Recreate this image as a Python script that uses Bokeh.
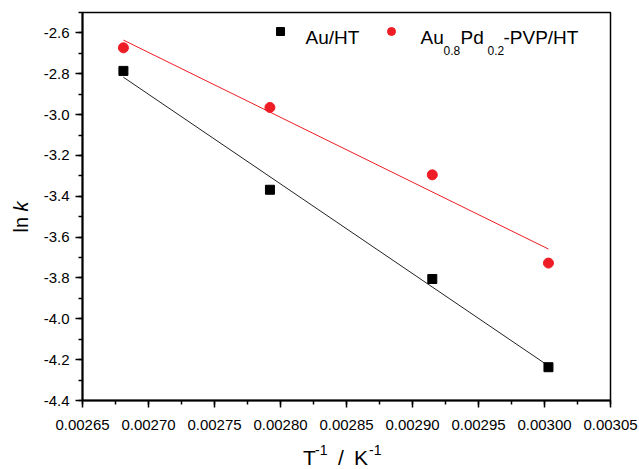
import numpy as np
from bokeh.plotting import figure
from bokeh.models import (Label, Legend, LegendItem, Range1d, SingleIntervalTicker,
                          PrintfTickFormatter, Div)
from bokeh.layouts import row, column
from bokeh.embed import file_html
from bokeh.resources import INLINE

# ---- data ----
inv_T = [0.002681, 0.002792, 0.002915, 0.003003]
ln_k_au = [-2.786, -3.368, -3.805, -4.237]
ln_k_aupd = [-2.673, -2.965, -3.295, -3.727]
series_names = ["Au/HT", "Au0.8Pd0.2-PVP/HT"]

FONT = "Liberation Sans"
RED = "#ee1c24"

W, H = 639, 469
YLAB_W = 40          # width of the y-title strip
XLAB_H = 29          # height of the x-title strip
FW, FH = W - YLAB_W, H - XLAB_H   # figure size
FL, FR, FT, FB = 82 - YLAB_W, 610 - YLAB_W, 12, 400  # frame edges in figure px

p = figure(width=FW, height=FH, output_backend="svg", toolbar_location=None,
           x_range=Range1d(0.00265, 0.00305), y_range=Range1d(-4.4, -2.5),
           min_border_left=FL, min_border_right=FW - FR, min_border_top=FT,
           min_border_bottom=FH - FB)
p.grid.visible = False
p.background_fill_color = "white"
p.border_fill_color = "white"
p.outline_line_color = "black"
p.outline_line_width = 1.5

for ax in (p.xaxis[0], p.yaxis[0]):
    ax.axis_line_width = 2
    ax.axis_line_color = "black"
    ax.major_tick_line_width = 1.5
    ax.minor_tick_line_width = 1.5
    ax.major_tick_in = 0
    ax.minor_tick_in = 0
    ax.major_tick_out = 7
    ax.minor_tick_out = 4
    ax.major_label_text_font = FONT
    ax.major_label_text_font_size = "15px"
    ax.major_label_text_color = "black"
p.xaxis[0].major_label_standoff = 12
p.yaxis[0].major_label_standoff = 6

p.xaxis[0].ticker = SingleIntervalTicker(interval=0.00005, num_minor_ticks=2)
p.xaxis[0].formatter = PrintfTickFormatter(format="%.5f")
p.yaxis[0].ticker = SingleIntervalTicker(interval=0.2, num_minor_ticks=2)
p.yaxis[0].formatter = PrintfTickFormatter(format="%.1f")

# fitted lines (linear regression of the data)
xs = np.array(inv_T)
for ys, col in ((ln_k_au, "#222222"), (ln_k_aupd, RED)):
    m, b = np.polyfit(xs, np.array(ys), 1)
    xl = np.array([xs.min(), xs.max()])
    p.line(xl, m * xl + b, line_color=col, line_width=1)

sq = p.scatter(inv_T, ln_k_au, marker="square", size=9, fill_color="black",
               line_color="black")
ci = p.scatter(inv_T, ln_k_aupd, marker="circle", size=10, fill_color=RED,
               line_color=RED)

# glyph-only legend, texts added as labels (subscripts)
leg = Legend(items=[LegendItem(label=" ", renderers=[sq]),
                    LegendItem(label=" ", renderers=[ci])],
             orientation="horizontal",
             location=(279.5 - YLAB_W - 10 - FL, FB - 40.7),
             padding=0, margin=0, spacing=90, label_standoff=0, label_width=1,
             label_height=20, glyph_width=20, glyph_height=20,
             label_text_font_size="1px", border_line_color=None,
             background_fill_alpha=0)
p.add_layout(leg)


def lab(text, cx, cy, size):
    # cx, cy: page pixel position of the text's start / baseline
    p.add_layout(Label(x=cx - YLAB_W - FL, y=FB - cy, x_units="screen",
                       y_units="screen", text=text, text_font=FONT,
                       text_font_size=f"{size}px", text_color="black",
                       text_baseline="alphabetic", text_align="left"))


lab(series_names[0], 305, 36.5, 19)
lab("Au", 420, 36.5, 19)
lab("0.8", 443, 50, 12)
lab("Pd", 460, 36.5, 19)
lab("0.2", 487, 50, 12)
lab("-PVP/HT", 503, 36.5, 19)

# y title: ln k (italic k)
ylab = Div(width=YLAB_W, height=FH, margin=0, text=(
    f'<div style="position:relative;width:{YLAB_W}px;height:{FH}px;">'
    '<div style="position:absolute;left:21px;top:217px;'
    'transform:translate(-50%,-50%) rotate(-90deg);white-space:nowrap;'
    f"font-family:'{FONT}';font-size:20px;line-height:1;color:black;\">"
    'ln <i>k</i></div></div>'))

# x title: T^-1 / K^-1
def piece(t, left, top, size):
    return (f'<span style="position:absolute;left:{left}px;top:{top}px;'
            f"font-family:'{FONT}';font-size:{size}px;line-height:1;"
            f'white-space:nowrap;color:black;">{t}</span>')

xlab = Div(width=W, height=XLAB_H, margin=0, text=(
    f'<div style="position:relative;width:{W}px;height:{XLAB_H}px;">'
    + piece("T", 303, 7, 21) + piece("-1", 315, 3, 14)
    + piece("/", 338, 7, 21) + piece("K", 354, 7, 21)
    + piece("-1", 369, 3, 14) + '</div>'))

layout = column(row(ylab, p, spacing=0), xlab, spacing=0)

open("out.html", "w").write(file_html(layout, INLINE))
